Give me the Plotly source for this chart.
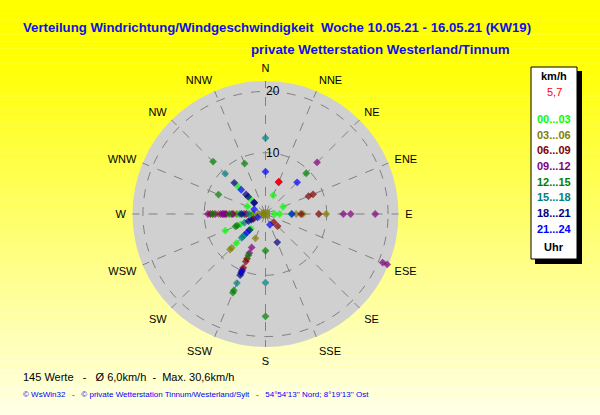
import plotly.graph_objects as go

# Windrichtung (Grad) und Geschwindigkeit (km/h) je Zeitfenster
dir_00_03 = [22.5, 67.5, 90, 90, 90, 315, 315, 292.5, 270, 270, 270, 247.5, 247.5, 225, 225]
spd_00_03 = [3.3, 3.1, 4.2, 2.3, 1.5, 6.3, 3.5, 3.2, 4.6, 3.6, 2.3, 7.1, 4.4, 6.7, 3.4]

dir_03_06 = [0, 90, 90, 90, 270, 270, 270, 270, 270, 270, 225, 225, 202.5]
spd_03_06 = [0, 9.9, 6.1, 5.0, 7.7, 4.8, 2.0, 1.2, 0.4, 8.6, 8.2, 7.8, 4.3]

dir_06_09 = [67.5, 67.5, 90, 90, 270, 270, 270, 270, 247.5, 202.5, 202.5, 202.5, 202.5, 135, 135]
spd_06_09 = [7.6, 8.4, 8.7, 5.8, 9.0, 6.4, 5.3, 3.1, 2.1, 7.9, 8.4, 9.5, 9.9, 1.9, 2.8]

dir_09_12 = [45, 90, 90, 90, 112.5, 112.5, 270, 270, 270, 270, 270, 270, 270, 270, 202.5, 202.5]
spd_09_12 = [11.9, 17.9, 13.9, 12.7, 20.7, 21.5, 9.4, 8.2, 7.3, 7.0, 6.6, 5.5, 3.4, 6.8, 5.9, 6.9]

dir_12_15 = [337.5, 315, 292.5, 45, 270, 270, 247.5, 247.5, 202.5, 202.5, 202.5, 180, 180]
spd_12_15 = [8.9, 12.1, 8.3, 9.4, 8.6, 5.9, 5.3, 5.0, 7.3, 13.5, 13.9, 6.0, 16.7]

dir_15_18 = [0, 315, 270, 270, 247.5, 225, 225, 225, 202.5, 180]
spd_15_18 = [12.4, 9.3, 4.2, 2.7, 3.7, 5.5, 5.2, 4.8, 12.2, 11.2]

dir_18_21 = [315, 315, 315, 315, 315, 270, 247.5, 247.5, 225, 202.5, 202.5, 157.5]
spd_18_21 = [7.2, 4.5, 4.0, 2.6, 2.6, 3.9, 3.0, 2.5, 3.7, 10.4, 10.8, 5.0]

dir_21_24 = [0, 22.5, 45, 315, 292.5, 90, 247.5, 225, 202.5, 157.5]
spd_21_24 = [6.9, 5.6, 7.3, 5.6, 2.0, 4.3, 1.4, 4.3, 10.1, 1.9]

aktuell_dir = [22.5]
aktuell_spd = [5.7]

richtungen = ['N', 'NNE', 'NE', 'ENE', 'E', 'ESE', 'SE', 'SSE',
              'S', 'SSW', 'SW', 'WSW', 'W', 'WNW', 'NW', 'NNW']
zeitfenster = ['00...03', '03...06', '06...09', '09...12',
               '12...15', '15...18', '18...21', '21...24']
farben = ['#00FF00', '#808000', '#800000', '#800080',
          '#008000', '#008080', '#000080', '#0000FF']

W, H = 600, 415


def px(x):
    return x / W


def py(y):
    return 1 - y / H


serien = [
    (dir_00_03, spd_00_03), (dir_03_06, spd_03_06),
    (dir_06_09, spd_06_09), (dir_09_12, spd_09_12),
    (dir_12_15, spd_12_15), (dir_15_18, spd_15_18),
    (dir_18_21, spd_18_21), (dir_21_24, spd_21_24),
]

fig = go.Figure()
for (d, s), farbe in zip(serien, farben):
    fig.add_trace(go.Scatterpolar(
        r=s, theta=d, mode='markers',
        marker=dict(color=farbe, size=[9 if v == 0 else 6 for v in s],
                    symbol=['square' if v == 0 else 'diamond' for v in s],
                    line=dict(width=0)),
        showlegend=False, cliponaxis=False,
    ))

fig.add_trace(go.Scatterpolar(
    r=aktuell_spd, theta=aktuell_dir, mode='markers',
    marker=dict(color='#FF0000', size=6, symbol='diamond', line=dict(width=0)),
    showlegend=False,
))

# Hintergrund mit Farbverlauf gelb -> hellgelb
shapes = []
n = 60
for i in range(n):
    y0 = H * i / n
    y1 = H * (i + 1) / n
    t = max(0.0, (y0 - 50) / (H - 50))
    b = int(235 * t)
    shapes.append(dict(type='rect', xref='paper', yref='paper',
                       x0=0, x1=1, y0=py(y1), y1=py(y0),
                       fillcolor=f'rgb(255,255,{b})', line_width=0, layer='below'))

# Legendenkasten mit Schatten
shapes.append(dict(type='rect', xref='paper', yref='paper',
                   x0=px(535), x1=px(582), y0=py(264), y1=py(71),
                   fillcolor='black', line_width=0))
shapes.append(dict(type='rect', xref='paper', yref='paper',
                   x0=px(531), x1=px(577), y0=py(259), y1=py(67),
                   fillcolor='white', line=dict(color='black', width=1)))

ann = []
ann.append(dict(text='<b>Verteilung Windrichtung/Windgeschwindigkeit  Woche 10.05.21 - 16.05.21 (KW19)</b>',
                x=px(21), y=py(27), xanchor='left', yanchor='middle',
                font=dict(size=13.2, color='#1010E8')))
ann.append(dict(text='<b>private Wetterstation Westerland/Tinnum</b>',
                x=px(249), y=py(50), xanchor='left', yanchor='middle',
                font=dict(size=13.3, color='#1010E8')))
ann.append(dict(text='145 Werte   -   Ø 6,0km/h  -  Max. 30,6km/h',
                x=px(21), y=py(377), xanchor='left', yanchor='middle',
                font=dict(size=11, color='black')))
ann.append(dict(text="© WsWin32   -   © private Wetterstation Tinnum/Westerland/Sylt   -   54°54'13'' Nord; 8°19'13'' Ost",
                x=px(21), y=py(394), xanchor='left', yanchor='middle',
                font=dict(size=8, color='#0000FF')))

ann.append(dict(text='<b>km/h</b>', x=px(554), y=py(76), xanchor='center', yanchor='middle',
                font=dict(size=11, color='black')))
ann.append(dict(text='5,7', x=px(554), y=py(92), xanchor='center', yanchor='middle',
                font=dict(size=11, color='#FF0000')))
for i, (z, farbe) in enumerate(zip(zeitfenster, farben)):
    ann.append(dict(text=f'<b>{z}</b>', x=px(554), y=py(119 + i * 15.7),
                    xanchor='center', yanchor='middle',
                    font=dict(size=11, color=farbe)))
ann.append(dict(text='<b>Uhr</b>', x=px(554), y=py(247), xanchor='center', yanchor='middle',
                font=dict(size=11, color='black')))
for a in ann:
    a.update(xref='paper', yref='paper', showarrow=False)

fig.update_layout(
    width=W, height=H,
    margin=dict(l=0, r=0, t=0, b=0),
    paper_bgcolor='#FFFF80',
    font=dict(family='Liberation Sans, Arial, sans-serif', size=11, color='black'),
    shapes=shapes,
    annotations=ann,
    polar=dict(
        domain=dict(x=[0.2208, 0.6642], y=[0.1639, 0.8048]),
        bgcolor='#D0D0D0',
        angularaxis=dict(
            rotation=90, direction='clockwise',
            tickmode='array',
            tickvals=[i * 22.5 for i in range(16)],
            ticktext=richtungen,
            ticks='outside', ticklen=4, tickcolor='rgba(0,0,0,0)',
            showline=False,
            gridcolor='#808080', griddash='dash', gridwidth=1,
            tickfont=dict(size=11, color='black'),
        ),
        radialaxis=dict(
            range=[0, 21.7],
            tickmode='array', tickvals=[10, 20], ticktext=['10', '20'],
            angle=90, side='clockwise', tickangle=90,
            showline=False, ticks='',
            gridcolor='#808080', griddash='dash', gridwidth=1,
            tickfont=dict(size=12, color='black'),
        ),
    ),
)

fig.write_html('out.html', config={'displayModeBar': False},
               post_script="document.body.style.margin='0';")
